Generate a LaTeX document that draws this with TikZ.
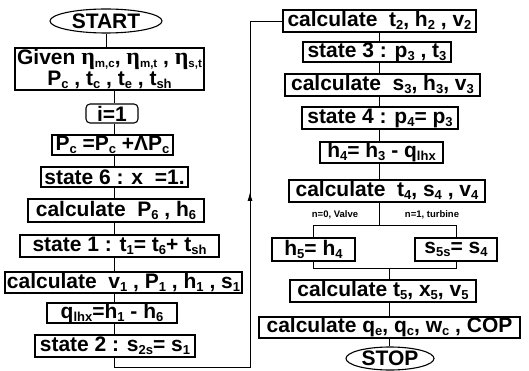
\documentclass[tikz,border=0pt]{standalone}
\usepackage{fontspec}
\setmainfont{Liberation Sans}
\newfontfamily\etaf{Liberation Serif}
\usetikzlibrary{shapes.geometric,arrows.meta}
\newcommand{\mf}{\fontsize{21}{20}\selectfont\bfseries}
\newcommand{\sbs}[1]{\raisebox{-3pt}{\fontsize{13}{13}\selectfont #1}}
\newcommand{\sbt}[1]{\raisebox{-3pt}{\fontsize{11.5}{11}\selectfont #1}}
\newcommand{\et}{{\etaf\fontsize{24}{20}\selectfont η}}
\begin{document}
\begin{tikzpicture}[x=1pt,y=-1pt,
  box/.style={draw,line width=1.1pt,inner sep=0pt,font=\mf},
  term/.style={draw,ellipse,line width=1.1pt,inner sep=0pt,font=\mf},
  ln/.style={line width=0.9pt},
  lab/.style={font=\fontsize{9.5}{10}\selectfont\bfseries,inner sep=0pt}]
\fill[white] (0,0) rectangle (529,371);
\useasboundingbox (0,0) rectangle (529,371);
% left column
\node[term,minimum width=112,minimum height=24] (start) at (106,21) {START};
\node[box,minimum width=189,minimum height=42,align=center] (given) at (109.5,69)
  {Given \et\sbt{m,c}, \et\sbt{m,t} , \et\sbt{s,t}\\[1pt]P\sbs{c} , t\sbs{c} , t\sbs{e} , t\sbs{sh}};
\node[box,rounded corners=4pt,minimum width=52,minimum height=19] (ione) at (112,113.5) {i=1};
\node[box,minimum width=121,minimum height=20] (pc) at (112.5,145) {P\sbs{c} =P\sbs{c} +ΛP\sbs{c}};
\node[box,minimum width=147,minimum height=20] (s6) at (114.5,177) {state 6 : x\ \ =1.};
\node[box,minimum width=176,minimum height=23] (cp6) at (116,210.5) {calculate\ \ P\sbs{6} , h\sbs{6}};
\node[box,minimum width=199,minimum height=22] (s1) at (119.5,246) {state 1 : t\sbs{1}= t\sbs{6}+ t\sbs{sh}};
\node[box,minimum width=237,minimum height=21] (cv1) at (123.5,282.5) {calculate\ \ v\sbs{1} , P\sbs{1} , h\sbs{1} , s\sbs{1}};
\node[box,minimum width=130,minimum height=20] (qlhx) at (112,313) {q\sbs{lhx}=h\sbs{1} - h\sbs{6}};
\node[box,minimum width=160,minimum height=22] (s2) at (115,346) {state 2 : s\sbs{2s}= s\sbs{1}};
% right column
\node[box,minimum width=193,minimum height=22] (ct2) at (379.5,21) {calculate\ \ t\sbs{2}, h\sbs{2} , v\sbs{2}};
\node[box,minimum width=148,minimum height=20] (s3) at (377,52) {state 3 : p\sbs{3} , t\sbs{3}};
\node[box,minimum width=195,minimum height=22] (cs3) at (382.5,85) {calculate\ \ s\sbs{3}, h\sbs{3}, v\sbs{3}};
\node[box,minimum width=156,minimum height=22] (s4) at (380,118) {state 4 : p\sbs{4}= p\sbs{3}};
\node[box,minimum width=123,minimum height=21] (h4) at (381.5,152.5) {h\sbs{4}= h\sbs{3} - q\sbs{lhx}};
\node[box,minimum width=196,minimum height=22] (ct4) at (387,191) {calculate\ \ t\sbs{4}, s\sbs{4} , v\sbs{4}};
\node[lab] (lv) at (335,215) {n=0, Valve};
\node[lab] (lt) at (432,215) {n=1, turbine};
\node[box,minimum width=83,minimum height=23] (h5) at (313.5,249.5) {h\sbs{5}= h\sbs{4}};
\node[box,minimum width=82,minimum height=23] (s5) at (456,249.5) {s\sbs{5s}= s\sbs{4}};
\node[box,minimum width=186,minimum height=22] (ct5) at (383,291) {calculate t\sbs{5}, x\sbs{5}, v\sbs{5}};
\node[box,minimum width=261,minimum height=21] (cq) at (389.5,327.5) {calculate q\sbs{e}, q\sbs{c}, w\sbs{c} , COP};
\node[term,minimum width=88,minimum height=23] (stop) at (390,358.5) {STOP};
% helper coordinates
\coordinate (colL) at (114,0);
\coordinate (colR) at (379,0);
\coordinate (colJ) at (389,0);
\coordinate (loopB) at (250,367);
\coordinate (brY) at (0,225);
\coordinate (jnY) at (0,268);
\coordinate (arT) at (250,192);
\coordinate (arB) at (250,215);
% left connectors
\draw[ln] (start.south) -- (start.south |- given.north);
\foreach \a/\b in {given/ione,ione/pc,pc/s6,s6/cp6,cp6/s1,s1/cv1,cv1/qlhx,qlhx/s2}
  \draw[ln] (\a.south -| colL) -- (\b.north -| colL);
% return loop
\draw[ln] (s2.south -| colL) -- (colL |- loopB) -- (loopB) -- (loopB |- ct2.west) -- (ct2.west);
\draw[ln,-{Latex[length=9pt,width=5pt]}] (arB) -- (arT);
% right connectors
\foreach \a/\b in {ct2/s3,s3/cs3,cs3/s4,s4/h4,h4/ct4}
  \draw[ln] (\a.south -| colR) -- (\b.north -| colR);
\draw[ln] (ct4.south -| colR) -- (colR |- brY);
\draw[ln] (h5.north) -- (h5.north |- brY) -- (s5.north |- brY) -- (s5.north);
\draw[ln] (h5.south) -- (h5.south |- jnY) -- (s5.south |- jnY) -- (s5.south);
\draw[ln] (colJ |- jnY) -- (ct5.north -| colJ);
\draw[ln] (ct5.south -| colJ) -- (cq.north -| colJ);
\draw[ln] (cq.south -| colJ) -- (stop.north -| colJ);
\end{tikzpicture}
\end{document}
